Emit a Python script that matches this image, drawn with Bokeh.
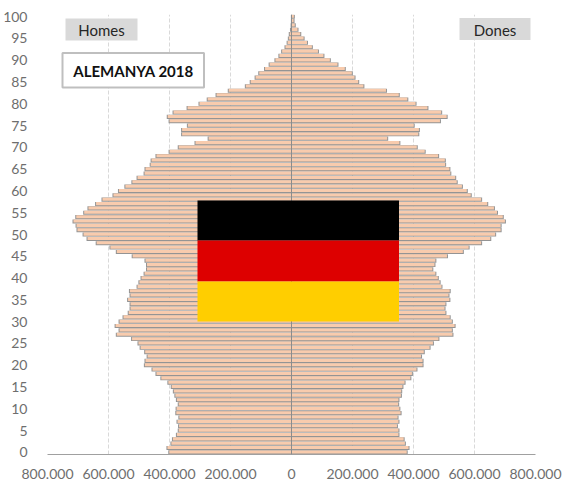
import numpy as np
from bokeh.plotting import figure
from bokeh.models import ColumnDataSource, FixedTicker, Span, BoxAnnotation, Label
from bokeh.embed import file_html
from bokeh.resources import INLINE

ages = list(range(0, 101))
# Population in thousands, age 0 .. 100
homes = [404,410,397,392,379,373,372,377,371,381,380,373,379,384,389,396,407,430,446,459,
         484,482,475,483,498,505,526,576,567,580,567,554,537,531,531,539,531,533,508,502,
         495,485,477,477,482,524,576,597,642,672,685,705,708,718,709,683,669,644,623,587,
         569,548,525,508,485,482,465,462,446,403,373,318,275,362,362,343,403,409,390,344,
         305,278,249,209,153,137,121,109,90,75,56,43,34,23,16,12,9,5,3,2,2]
dones = [381,387,375,371,354,354,349,354,351,361,357,353,354,362,363,367,374,393,398,413,
         433,433,428,437,456,467,485,531,529,538,529,522,508,505,508,521,518,522,495,489,
         483,475,465,472,475,513,565,584,625,655,671,689,689,703,696,677,667,645,625,591,
         578,562,545,540,524,521,507,506,484,440,414,357,317,419,421,404,490,512,494,449,
         410,383,355,313,239,222,210,201,178,154,129,108,90,70,54,43,32,23,14,10,11]
x_ticks = [-800000,-600000,-400000,-200000,0,200000,400000,600000,800000]
x_labels = ["800.000","600.000","400.000","200.000","0","200.000","400.000","600.000","800.000"]
y_ticks = list(range(0, 101, 5))

FONT = "Lato"
TXT = "#6e6e6e"
FL, FR, FT, FB = 48, 536, 14, 454   # frame edges in page pixels
OX, OY = 8, 8

W, H = 556, 474
p = figure(width=W, height=H, output_backend="svg", toolbar_location=None,
           x_range=(-800000, 800000), y_range=(-0.5, 100.5),
           frame_width=FR-FL, frame_height=FB-FT,
           min_border_left=FL-OX, min_border_right=W-(FR-OX),
           min_border_top=FT-OY, min_border_bottom=H-(FB-OY))
p.margin = (8, 0, -8, 0)
p.outline_line_color = None
p.background_fill_color = "white"
p.border_fill_color = "white"


def xd(px):
    return -800000 + (px-FL)/(FR-FL)*1600000


def yd(py):
    return -0.5 + (FB-py)/(FB-FT)*101


one_px = 1600000/(FR-FL)
m = np.array(homes)*1000
f = np.array(dones)*1000
age = np.array(ages)
src = ColumnDataSource(dict(y=age, y2=age+0.09, m=-m, f=f,
                            mi=-np.maximum(m-one_px, 0), fi=np.maximum(f-one_px, 0)))
# gray outline underlay, then the orange fill leaving the outer edge and lower edge gray
p.hbar(y="y", left="m", right="f", height=0.94, source=src, fill_color="#949494", line_color=None)
p.hbar(y="y2", left="mi", right="fi", height=0.7, source=src, fill_color="#F8CBAD", line_color=None)

p.xaxis.ticker = FixedTicker(ticks=x_ticks)
p.xaxis.major_label_overrides = dict(zip(x_ticks, x_labels))
p.xaxis.axis_line_color = "#a0a0a0"
p.xaxis.axis_line_width = 1
p.xaxis.major_tick_line_color = None
p.xaxis.minor_tick_line_color = None
p.xaxis.major_label_standoff = 8
p.xaxis.major_label_text_font = FONT
p.xaxis.major_label_text_font_size = "14px"
p.xaxis.major_label_text_color = TXT

p.yaxis.ticker = FixedTicker(ticks=y_ticks)
p.yaxis.axis_line_color = None
p.yaxis.major_tick_line_color = None
p.yaxis.minor_tick_line_color = None
p.yaxis.major_label_standoff = 14
p.yaxis.major_label_text_font = FONT
p.yaxis.major_label_text_font_size = "14px"
p.yaxis.major_label_text_color = TXT

p.ygrid.visible = False
p.xgrid.ticker = FixedTicker(ticks=x_ticks)
p.xgrid.grid_line_color = "#d9d9d9"
p.xgrid.grid_line_dash = "4 2"
p.xgrid.grid_line_width = 1

p.add_layout(Span(location=0, dimension="height", line_color="#8c8c8c", line_width=1))


def box(x0, x1, y0, y1, color, line=None, lw=0):
    p.add_layout(BoxAnnotation(left=xd(x0), right=xd(x1), top=yd(y0), bottom=yd(y1),
                               fill_color=color, fill_alpha=1,
                               line_color=line, line_width=lw, line_alpha=1 if line else 0))


def label(cx, cy, text, size, bold=False, color="#262626"):
    p.add_layout(Label(x=xd(cx), y=yd(cy), text=text,
                       text_font=FONT, text_font_size=size, text_color=color,
                       text_font_style="bold" if bold else "normal",
                       text_align="center", text_baseline="middle"))

# Flag
box(198, 399.5, 200, 240, "#000000")
box(198, 399.5, 240, 281, "#DD0000")
box(198, 399.5, 281, 321, "#FFCE00")
# Side captions
box(66, 138, 18, 40, "#D9D9D9")
box(460, 531, 17.5, 39.5, "#D9D9D9")
label(102, 29.5, "Homes", "15px")
label(495.5, 29, "Dones", "15px")
# Title box
box(63, 204.5, 52.5, 87, "#FFFFFF", "#BFBFBF", 2)
label(134, 70, "ALEMANYA 2018", "15px", bold=True, color="#111111")

open("out.html", "w").write(file_html(p, INLINE))
